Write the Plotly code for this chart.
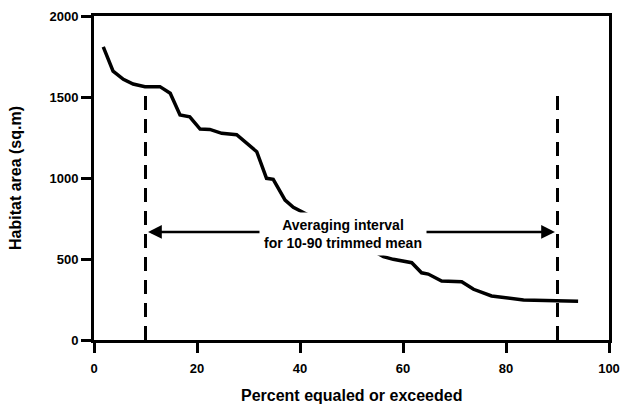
import plotly.graph_objects as go

# Percent equaled or exceeded vs habitat area (sq.m)
pct = [1.8, 3.7, 5.7, 7.6, 9.9, 12.8, 14.8, 16.7, 18.6, 20.6, 22.5, 24.8, 27.7,
       29.7, 31.6, 33.5, 34.8, 37.1, 38.7, 41.6, 44.0, 48.0, 51.0, 53.3, 56.2,
       58.1, 61.7, 63.6, 64.9, 67.5, 71.4, 73.7, 75.0, 77.2, 83.4, 87.9, 94.0]
area = [1810, 1660, 1609, 1580, 1564, 1564, 1523, 1389, 1378, 1302, 1300, 1276, 1267,
        1214, 1162, 998, 992, 864, 819, 772, 735, 665, 610, 566, 514,
        498, 477, 415, 407, 364, 360, 313, 298, 272, 247, 243, 239]

trim_low, trim_high = 10, 90
trim_top = [1562, 1555]
arrow_level = 667
arrow_tails = [33.6, 63.9]
arrow_tips = [10.5, 89.5]
label_x, label_y = 48.3, 654

x_ticks = [0, 20, 40, 60, 80, 100]
y_ticks = [0, 500, 1000, 1500, 2000]

FONT = "Liberation Sans, Arial, sans-serif"

fig = go.Figure()
fig.add_trace(go.Scatter(x=pct, y=area, mode="lines",
                         line=dict(color="black", width=3.5),
                         showlegend=False, hoverinfo="skip"))

for xv, top in zip([trim_low, trim_high], trim_top):
    fig.add_shape(type="line", x0=xv, x1=xv, y0=0, y1=top, xref="x", yref="y",
                  line=dict(color="black", width=3, dash="14px,9px"))

for tail, tip in zip(arrow_tails, arrow_tips):
    fig.add_annotation(x=tip, y=arrow_level, ax=tail, ay=arrow_level,
                       xref="x", yref="y", axref="x", ayref="y",
                       text="", showarrow=True, arrowhead=2, arrowsize=1.1,
                       arrowwidth=2.5, arrowcolor="black", standoff=0)

fig.add_annotation(x=label_x, y=label_y, xref="x", yref="y",
                   text="<b>Averaging interval<br>for 10-90 trimmed mean</b>",
                   showarrow=False, bgcolor="white", borderpad=4,
                   font=dict(family=FONT, size=14, color="black"))

fig.add_annotation(x=0.5, y=0, xref="paper", yref="paper", yshift=-55,
                   yanchor="middle", xanchor="center", showarrow=False,
                   text="<b>Percent equaled or exceeded</b>",
                   font=dict(family=FONT, size=16, color="black"))
fig.add_annotation(x=0, y=0.5, xref="paper", yref="paper", xshift=-79,
                   xanchor="center", yanchor="middle", textangle=-90, showarrow=False,
                   text="<b>Habitat area (sq.m)</b>",
                   font=dict(family=FONT, size=16, color="black"))

axis_common = dict(showgrid=False, zeroline=False, showline=True, linecolor="black",
                   linewidth=3, mirror=True, ticks="outside", ticklen=10, tickwidth=3,
                   tickcolor="black", automargin=False,
                   tickfont=dict(family=FONT, size=13, color="black", weight="bold"))

fig.update_xaxes(range=[0, 100], tickvals=x_ticks, ticktext=[str(v) for v in x_ticks],
                 ticklabelstandoff=4, **axis_common)
fig.update_yaxes(range=[0, 2000], tickvals=y_ticks, ticktext=[str(v) for v in y_ticks],
                 **axis_common)

fig.update_layout(width=623, height=404, autosize=False,
                  margin=dict(l=94, r=14, t=16, b=64),
                  paper_bgcolor="white", plot_bgcolor="white")

fig.write_html("out.html",
               config={"responsive": False, "displayModeBar": False},
               post_script="document.body.style.margin='0';document.body.style.overflow='hidden';")
